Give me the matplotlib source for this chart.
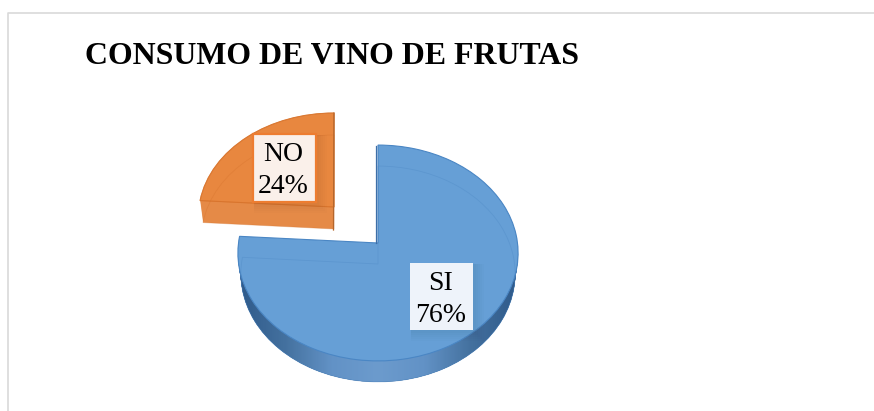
import numpy as np
import matplotlib
matplotlib.use('Agg')
import matplotlib.pyplot as plt
from matplotlib.colors import LinearSegmentedColormap
from matplotlib.patches import Rectangle
from matplotlib.transforms import Transform

titulo = 'CONSUMO DE VINO DE FRUTAS'
categorias = ['SI', 'NO']
valores = [76, 24]

plt.rcParams['font.family'] = ['Liberation Serif', 'DejaVu Serif']


# el grafico 3D de Excel: circulo unidad -> pixeles con perspectiva
class Perspectiva(Transform):
    input_dims = 2
    output_dims = 2

    def __init__(self, cx, cy, rx, ry, c=0.0926, dy=0):
        super().__init__()
        self.cx, self.cy, self.rx, self.ry, self.c, self.dy = cx, cy, rx, ry, c, dy

    def transform_non_affine(self, values):
        values = np.asarray(values)
        w = 1 + self.c * values[:, 1]
        x = self.cx + self.rx * (1 - 0.001 * self.dy) * values[:, 0] / w
        y = self.cy + self.dy - self.ry * values[:, 1] / w
        return np.column_stack([x, y])


fig = plt.figure(figsize=(8.74, 4.11), dpi=100)
ax = fig.add_axes([0, 0, 1, 1])


def porcion(i, persp, color, edge='none', lw=0, alpha=None, zorder=2):
    wedges, _ = ax.pie(valores, startangle=90, counterclock=False, colors=[color, color],
                       wedgeprops=dict(edgecolor=edge, linewidth=lw, alpha=alpha))
    wedges[1 - i].remove()
    w = wedges[i]
    w.set_transform(persp + ax.transData)
    w.set_zorder(zorder)
    return w


def rueda(dy):
    return Perspectiva(378, 243, 139.5, 107, dy=dy)


def cuna(dy):
    return Perspectiva(334, 207, 135, 102.7, dy=dy)


# lados
for d in range(1, 22):
    porcion(0, rueda(d), '#3f6c9e', zorder=1)
for d in range(1, 23):
    porcion(1, cuna(d), '#e58a47', zorder=1)

fondo = porcion(0, rueda(21), '#3f6c9e', zorder=1)
cmap = LinearSegmentedColormap.from_list('lado', ['#2f5a8a', '#44719f', '#6292c6', '#6c9bcd',
                                                  '#6292c6', '#44719f', '#2f5a8a'])
im = ax.imshow(np.linspace(0, 1, 300).reshape(1, -1), cmap=cmap, aspect='auto',
               extent=(238, 518, 390, 240), zorder=1.5)
im.set_clip_path(fondo)

# caras de arriba
porcion(0, rueda(0), '#669fd6', edge='#4a86c4', lw=0.8, zorder=2)
porcion(1, cuna(0), '#e8873f', edge='#e07a30', lw=0.6, zorder=2)

# lineas de atras que se ven por la transparencia
porcion(0, rueda(21), 'none', edge='#4f8ac6', lw=0.6, alpha=0.4, zorder=3)
porcion(1, cuna(22), 'none', edge='#d4712b', lw=0.6, alpha=0.35, zorder=3)
porcion(1, cuna(0), 'none', edge='#d4712b', lw=0.8, alpha=0.6, zorder=3)

# borde oscuro del corte
ax.plot([334, 333.5], [113, 230], color='#b5662c', lw=0.9, zorder=3)
ax.plot([376, 376], [146, 243], color='#3d6fa8', lw=0.9, zorder=3)

# etiquetas
cajas = [(410, 263, 63, 67, '#eef3fa', 'none'), (252.5, 133.5, 63, 68, '#faf0ea', '#ed7d31')]
for (x, y, w, h, fc, ec), cat, val in zip(cajas, categorias, valores):
    for k in range(1, 6):
        ax.add_patch(Rectangle((x + 1, y + 1), w + 2 * k, h + 2 * k, fc='black', alpha=0.012, ec='none', zorder=3.5))
    ax.add_patch(Rectangle((x, y), w, h, fc=fc, ec=ec, lw=1.6, zorder=4))
    ax.text(x + w / 2 - 1, y + h / 2 + 3, f'{cat}\n{val}%', ha='center', va='center', fontsize=20,
            color='black', linespacing=1.35, zorder=5)

ax.text(85, 64, titulo, fontsize=22.97, fontweight='bold', color='black', ha='left', va='baseline', zorder=5)

# marco
ax.plot([8, 8, 874], [411, 13, 13], color='#d9d9d9', lw=1.2, zorder=0)

ax.set_aspect('auto')
ax.set_xlim(0, 874)
ax.set_ylim(411, 0)
ax.axis('off')

fig.savefig('out.png', dpi=100, facecolor='white')
